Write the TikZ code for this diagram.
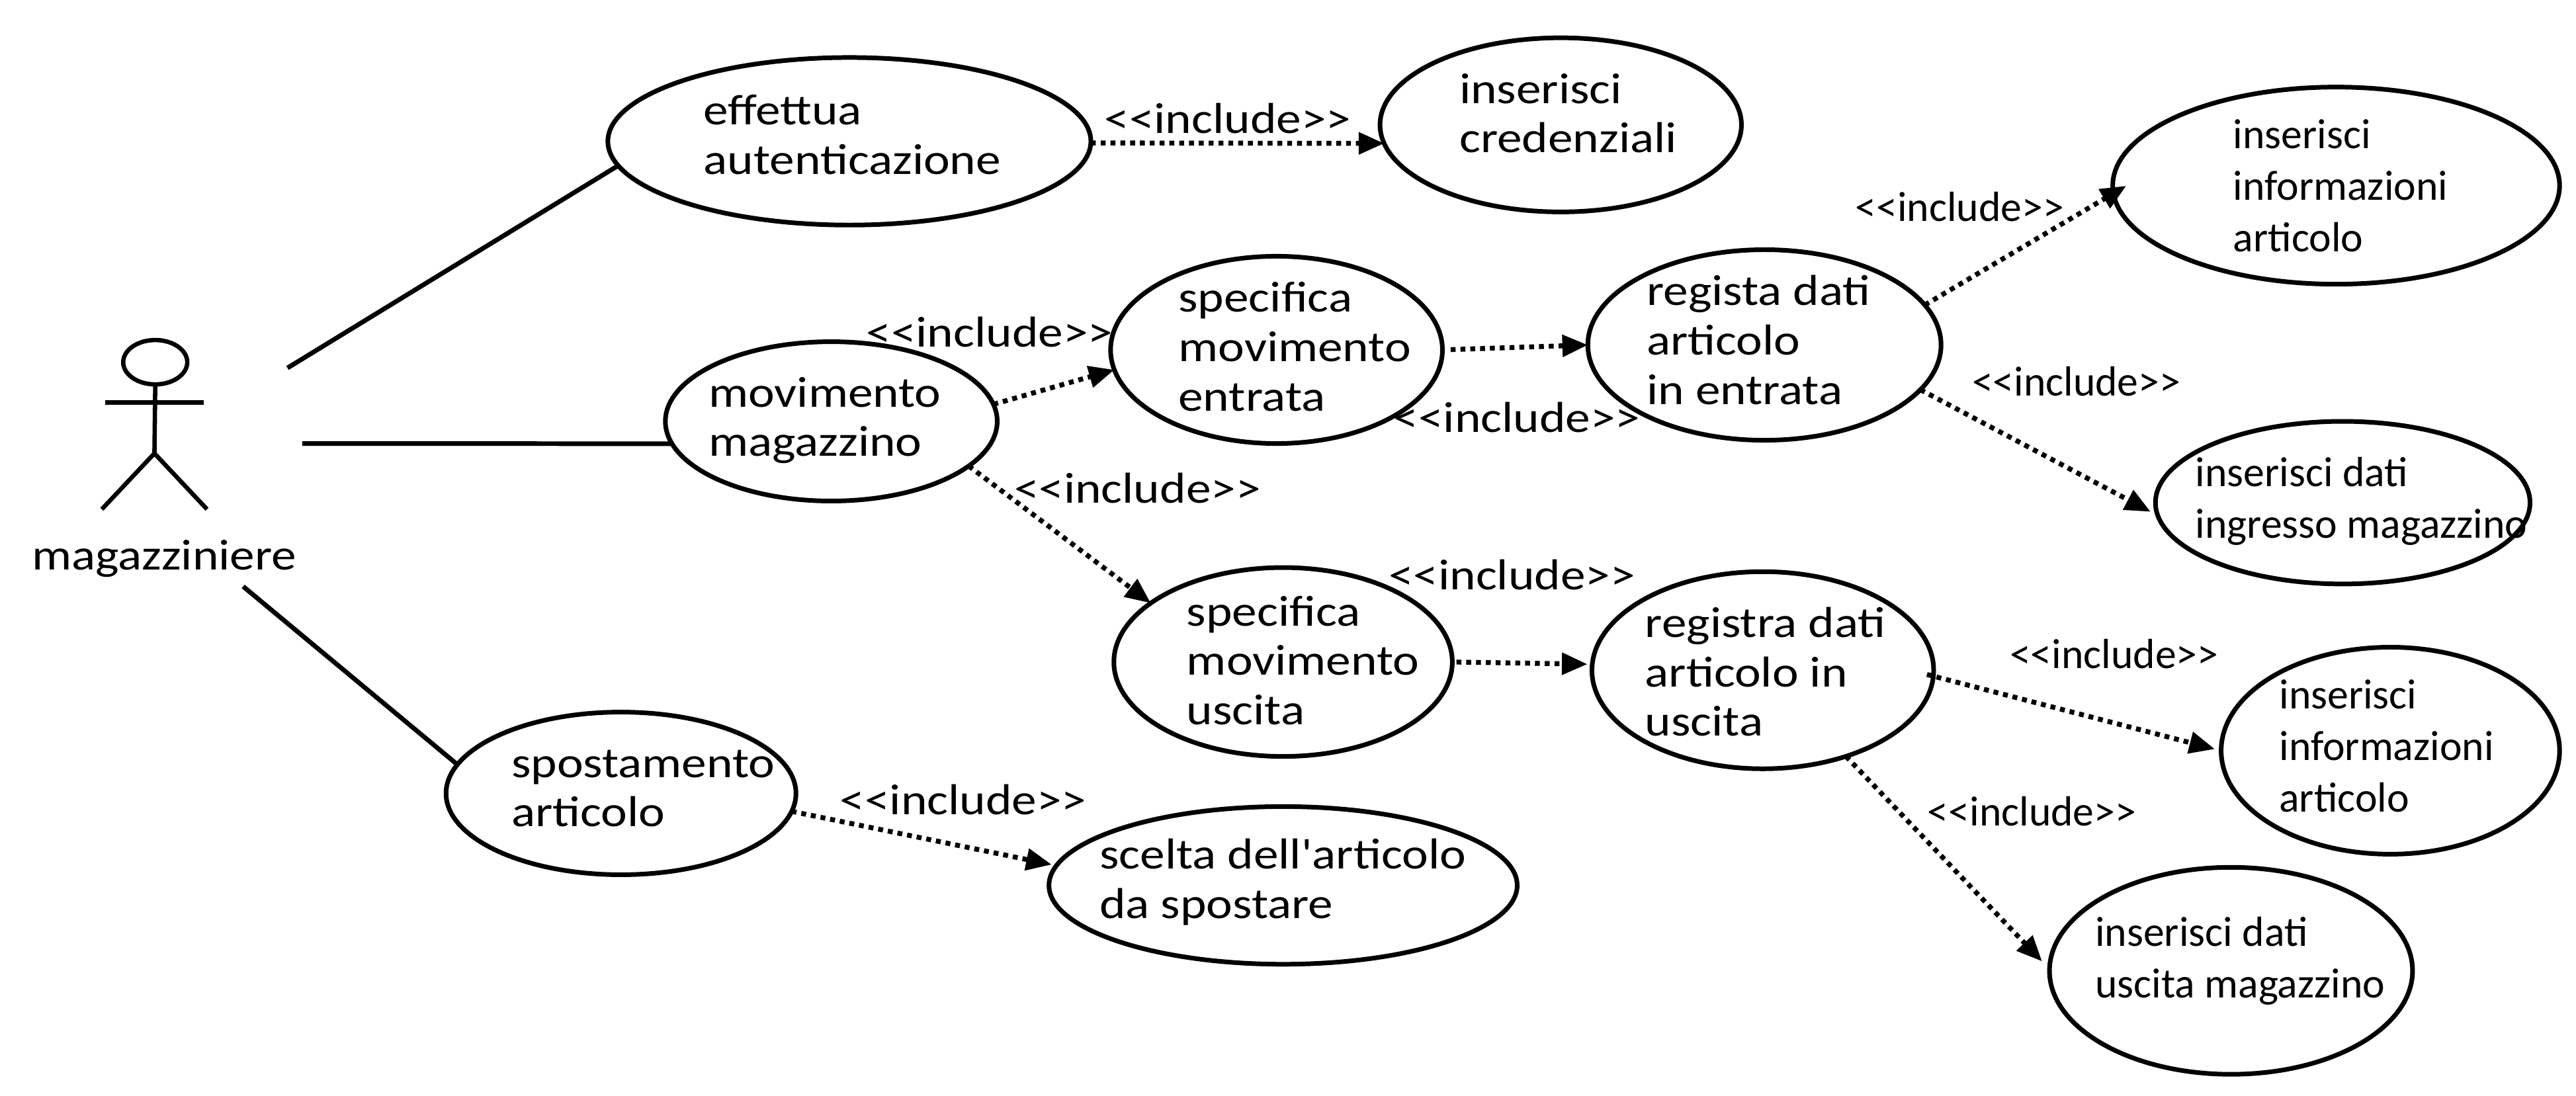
\documentclass[tikz,border=0pt]{standalone}
\usepackage{fontspec}
\setmainfont{Carlito}
\newfontfamily\widefont[FakeStretch=1.15]{Carlito}
\newfontfamily\plainfont{Carlito}
\usetikzlibrary{shapes.geometric}
\usetikzlibrary{arrows.meta}
\tikzset{
	usecase/.style={draw,ellipse,line width=1.6pt,inner sep=0pt,outer sep=0pt},
	assoc/.style={line width=1.6pt},
	incl/.style={line width=1.7pt,dash pattern=on 1.7pt off 1.7pt,-{Triangle[length=3.1mm,width=2.6mm]}},
	stick/.style={line width=1.5pt},
	textw/.style={anchor=west,align=left,inner sep=0pt,font=\widefont\fontsize{15}{17.1}\selectfont},
	textn/.style={anchor=west,align=left,inner sep=0pt,font=\plainfont\fontsize{14.6}{17.9}\selectfont}
}
\begin{document}
\begin{tikzpicture}[x=0.2mm,y=-0.2mm]
	\useasboundingbox (0,0) rectangle (1568,667);
	%Nodes
	\node[usecase,minimum width=5.88cm,minimum height=2.04cm] (eff) at (517,86) {};
	\node[usecase,minimum width=4.4cm,minimum height=2.12cm] (cred) at (950,76) {};
	\node[usecase,minimum width=4.04cm,minimum height=1.94cm] (mov) at (506,256.5) {};
	\node[usecase,minimum width=4.04cm,minimum height=2.28cm] (specin) at (777,213) {};
	\node[usecase,minimum width=4.3cm,minimum height=2.32cm] (regin) at (1074,210) {};
	\node[usecase,minimum width=5.44cm,minimum height=2.4cm] (infoa) at (1422,113) {};
	\node[usecase,minimum width=4.56cm,minimum height=1.98cm] (ingr) at (1426,306) {};
	\node[usecase,minimum width=4.12cm,minimum height=2.3cm] (specout) at (781,403) {};
	\node[usecase,minimum width=4.16cm,minimum height=2.4cm] (regout) at (1073,408) {};
	\node[usecase,minimum width=4.12cm,minimum height=2.52cm] (infob) at (1455,457) {};
	\node[usecase,minimum width=4.42cm,minimum height=2.52cm] (usc) at (1358,591) {};
	\node[usecase,minimum width=4.26cm,minimum height=1.98cm] (spost) at (378,483) {};
	\node[usecase,minimum width=5.7cm,minimum height=1.92cm] (scelta) at (781,539) {};

	%Texts
	\node[textw] (teff) at (428,82) {effettua\\autenticazione};
	\node[textw] (tcred) at (888,69) {inserisci\\credenziali};
	\node[textw] (tmov) at (431,256) {movimento\\magazzino};
	\node[textw] (tspecin) at (717,211) {specifica\\movimento\\entrata};
	\node[textw] (tregin) at (1002,207) {regista dati\\articolo\\in entrata};
	\node[textn] (tinfoa) at (1359,113) {inserisci\\informazioni\\articolo};
	\node[textn] (tingr) at (1336,305) {inserisci dati\\ingresso magazzino};
	\node[textw] (tspecout) at (722,402) {specifica\\movimento\\uscita};
	\node[textw] (tregout) at (1001,409) {registra dati\\articolo in\\uscita};
	\node[textn] (tinfob) at (1387,454) {inserisci\\informazioni\\articolo};
	\node[textn] (tusc) at (1275,585) {inserisci dati\\uscita magazzino};
	\node[textw] (tspost) at (311,480) {spostamento\\articolo};
	\node[textw] (tscelta) at (669,537) {scelta dell'articolo\\da spostare};
	\node[textw] (tactor) at (19,340) {magazziniere};

	%Labels
	\node[textw] (la) at (672,72) {<<include>>};
	\node[textw] (lb) at (527,202) {<<include>>};
	\node[textw] (lc) at (848,254) {<<include>>};
	\node[textw] (ld) at (617,297) {<<include>>};
	\node[textw] (le) at (845,350) {<<include>>};
	\node[textw] (lf) at (511,487) {<<include>>};
	\node[textn] (lg) at (1129,126) {<<include>>};
	\node[textn] (lh) at (1200,232) {<<include>>};
	\node[textn] (li) at (1223,398) {<<include>>};
	\node[textn] (lj) at (1173,494) {<<include>>};

	%Actor
	\node[draw,ellipse,stick,inner sep=0pt,outer sep=0pt,minimum width=0.78cm,minimum height=0.54cm] (head) at (94.5,220.5) {};
	\coordinate (hip) at (94,276);
	\coordinate (arml) at (64,245);
	\coordinate (armr) at (124,245);
	\coordinate (legl) at (62,310);
	\coordinate (legr) at (126,310);
	\draw[stick] (head.south) -- (hip);
	\draw[stick] (arml) -- (armr);
	\draw[stick] (legl) -- (hip) -- (legr);

	%Lines
	\coordinate (aa) at (175,224);
	\coordinate (ab) at (184,270);
	\coordinate (ac) at (148,357);
	\draw[assoc] (aa) -- (eff.186);
	\draw[assoc] (ab) -- (mov.188);
	\draw[assoc] (ac) -- (spost.170);

	\draw[incl] ([yshift=-0.2mm]eff.east) -- (cred.186);
	\draw[incl] (mov.6) -- (specin.187);
	\draw[incl,shorten <=1mm] (specin.east) -- (regin.west);
	\draw[incl,shorten >=-1.8mm] (regin.14) -- (infoa.182);
	\draw[incl,shorten >=1mm] (regin.-16) -- (ingr.184);
	\draw[incl] (mov.-18) -- (specout.156);
	\draw[incl,shorten <=0.5mm,shorten >=0.6mm] (specout.east) -- (regout.178);
	\draw[incl,shorten <=-0.8mm,shorten >=0.8mm] (regout.-2) -- (infob.west);
	\draw[incl] (regout.-46) -- ([xshift=-1mm]usc.177);
	\draw[incl,shorten >=0.6mm] (spost.-6) -- (scelta.175);
\end{tikzpicture}
\end{document}
